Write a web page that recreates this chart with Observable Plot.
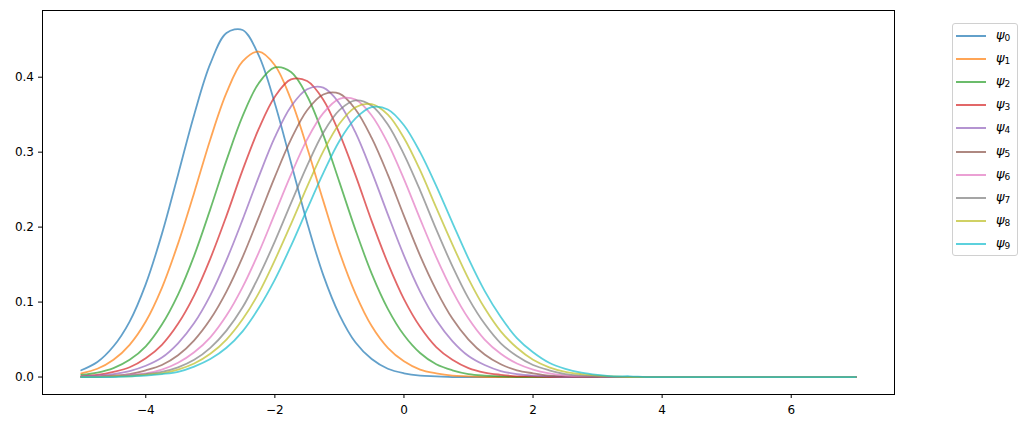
<!DOCTYPE html>
<html>
<head>
<meta charset="utf-8">
<script src="https://cdn.jsdelivr.net/npm/d3@7"></script>
<script src="https://cdn.jsdelivr.net/npm/@observablehq/plot@0.6"></script>
<style>
  body { margin: 0; background: white; font-family: "DejaVu Sans", sans-serif; }
  #wrap { position: relative; width: 1027px; height: 428px; }
  #legend { position: absolute; left: 952px; top: 23px; width: 66px; height: 233px;
            border: 1px solid #d0d0d0; border-radius: 3px; background: rgba(255,255,255,0.8); box-sizing: border-box; }
  .row { position: absolute; left: 0; height: 23px; width: 100%; }
  .swatch { position: absolute; left: 3px; width: 30px; height: 2px; top: 11px; opacity: 0.7; }
  .lab { position: absolute; left: 43px; top: 2px; font-size: 13px; line-height: 18px; color: #000; }
  .lab i { font-family: "DejaVu Sans"; font-style: italic; }
  .lab sub { font-size: 9px; vertical-align: -2px; }
</style>
</head>
<body>
<div id="wrap">
  <div id="chart"></div>
  <div id="legend"></div>
</div>
<script>
// x grid
const xs = [-5, -4.75, -4.5, -4.25, -4, -3.75, -3.5, -3.25, -3, -2.75, -2.5, -2.25, -2, -1.75, -1.5, -1.25, -1, -0.75, -0.5, -0.25, 0, 0.25, 0.5, 0.75, 1, 1.25, 1.5, 1.75, 2, 2.25, 2.5, 2.75, 3, 3.25, 3.5, 3.75, 4, 4.5, 5, 5.5, 6, 6.5, 7];

const psi0 = [0.009,0.020,0.041,0.074,0.124,0.191,0.270,0.350,0.418,0.459,0.463,0.429,0.365,0.286,0.206,0.136,0.083,0.046,0.024,0.011,0.005,0.002,0.001,0,0,0,0,0,0,0,0,0,0,0,0,0,0,0,0,0,0,0,0];
const psi1 = [0.005,0.011,0.023,0.043,0.074,0.119,0.178,0.246,0.317,0.379,0.421,0.434,0.416,0.370,0.306,0.235,0.167,0.111,0.068,0.039,0.021,0.010,0.005,0.002,0.001,0,0,0,0,0,0,0,0,0,0,0,0,0,0,0,0,0,0];
const psi2 = [0.003,0.006,0.012,0.023,0.041,0.070,0.110,0.162,0.224,0.289,0.348,0.392,0.413,0.407,0.375,0.323,0.260,0.196,0.138,0.091,0.056,0.032,0.017,0.009,0.004,0.002,0.001,0,0,0,0,0,0,0,0,0,0,0,0,0,0,0,0];
const psi3 = [0.001,0.003,0.007,0.013,0.025,0.043,0.071,0.109,0.158,0.215,0.276,0.331,0.374,0.397,0.395,0.370,0.325,0.269,0.208,0.152,0.104,0.067,0.040,0.023,0.012,0.006,0.003,0.001,0.001,0,0,0,0,0,0,0,0,0,0,0,0,0,0];
const psi4 = [0.001,0.002,0.004,0.008,0.015,0.026,0.045,0.072,0.109,0.156,0.210,0.267,0.320,0.361,0.384,0.386,0.365,0.326,0.274,0.217,0.162,0.114,0.076,0.048,0.028,0.016,0.008,0.004,0.002,0.001,0,0,0,0,0,0,0,0,0,0,0,0,0];
const psi5 = [0.000,0.001,0.002,0.004,0.009,0.016,0.029,0.049,0.077,0.114,0.160,0.213,0.267,0.317,0.356,0.377,0.378,0.357,0.319,0.270,0.215,0.162,0.116,0.078,0.050,0.030,0.017,0.009,0.005,0.002,0.001,0,0,0,0,0,0,0,0,0,0,0,0];
const psi6 = [0.000,0.001,0.001,0.003,0.005,0.010,0.019,0.033,0.053,0.082,0.120,0.166,0.218,0.270,0.317,0.352,0.371,0.370,0.349,0.312,0.264,0.211,0.160,0.115,0.078,0.050,0.031,0.018,0.010,0.005,0.002,0.001,0.001,0,0,0,0,0,0,0,0,0,0];
const psi7 = [0.000,0.000,0.001,0.002,0.004,0.007,0.013,0.023,0.039,0.062,0.093,0.134,0.181,0.232,0.282,0.326,0.356,0.369,0.362,0.337,0.297,0.249,0.197,0.148,0.105,0.071,0.045,0.028,0.016,0.009,0.004,0.002,0.001,0,0,0,0,0,0,0,0,0,0];
const psi8 = [0.000,0.000,0.001,0.001,0.003,0.005,0.010,0.018,0.031,0.050,0.077,0.112,0.156,0.204,0.254,0.301,0.338,0.360,0.364,0.350,0.319,0.276,0.226,0.177,0.131,0.092,0.061,0.039,0.023,0.013,0.007,0.004,0.002,0.001,0,0,0,0,0,0,0,0,0];
const psi9 = [0.000,0.000,0.000,0.001,0.002,0.004,0.007,0.014,0.024,0.039,0.061,0.092,0.130,0.175,0.224,0.272,0.315,0.345,0.360,0.357,0.336,0.300,0.255,0.206,0.158,0.115,0.080,0.052,0.033,0.019,0.011,0.006,0.003,0.001,0.001,0,0,0,0,0,0,0,0];

const seriesNames = ["ψ0","ψ1","ψ2","ψ3","ψ4","ψ5","ψ6","ψ7","ψ8","ψ9"];
const subscripts = ["0","1","2","3","4","5","6","7","8","9"];
const colors = ["#1f77b4","#ff7f0e","#2ca02c","#d62728","#9467bd","#8c564b","#e377c2","#7f7f7f","#bcbd22","#17becf"];
const xTicks = [-4, -2, 0, 2, 4, 6];
const yTicks = [0, 0.1, 0.2, 0.3, 0.4];

const allSeries = [psi0, psi1, psi2, psi3, psi4, psi5, psi6, psi7, psi8, psi9];
const data = allSeries.flatMap((vals, i) => vals.map((y, j) => ({x: xs[j], y, name: seriesNames[i]})));

const chart = Plot.plot({
  width: 1027,
  height: 428,
  marginLeft: 42,
  marginRight: 133,
  marginTop: 10,
  marginBottom: 34,
  style: {fontFamily: "DejaVu Sans", fontSize: "12px", color: "black", background: "white", overflow: "visible"},
  x: {domain: [-5.6, 7.6], ticks: xTicks, tickSize: 4, tickPadding: 7, label: null},
  y: {domain: [-0.0233, 0.489], ticks: yTicks, tickFormat: ".1f", tickSize: 4, tickPadding: 4.5, label: null},
  color: {domain: seriesNames, range: colors},
  marks: [
    Plot.line(data, {x: "x", y: "y", z: "name", stroke: "name", strokeWidth: 1.8, strokeOpacity: 0.7, curve: "catmull-rom"}),
    Plot.frame({stroke: "black", strokeWidth: 1})
  ]
});
document.getElementById("chart").appendChild(chart);

const legend = document.getElementById("legend");
seriesNames.forEach((n, i) => {
  const row = document.createElement("div");
  row.className = "row";
  row.style.top = Math.round(23.1 * i) + "px";
  const sw = document.createElement("div");
  sw.className = "swatch";
  sw.style.background = colors[i];
  const lab = document.createElement("div");
  lab.className = "lab";
  lab.innerHTML = "<i>ψ</i><sub>" + subscripts[i] + "</sub>";
  row.appendChild(sw);
  row.appendChild(lab);
  legend.appendChild(row);
});
</script>
</body>
</html>
